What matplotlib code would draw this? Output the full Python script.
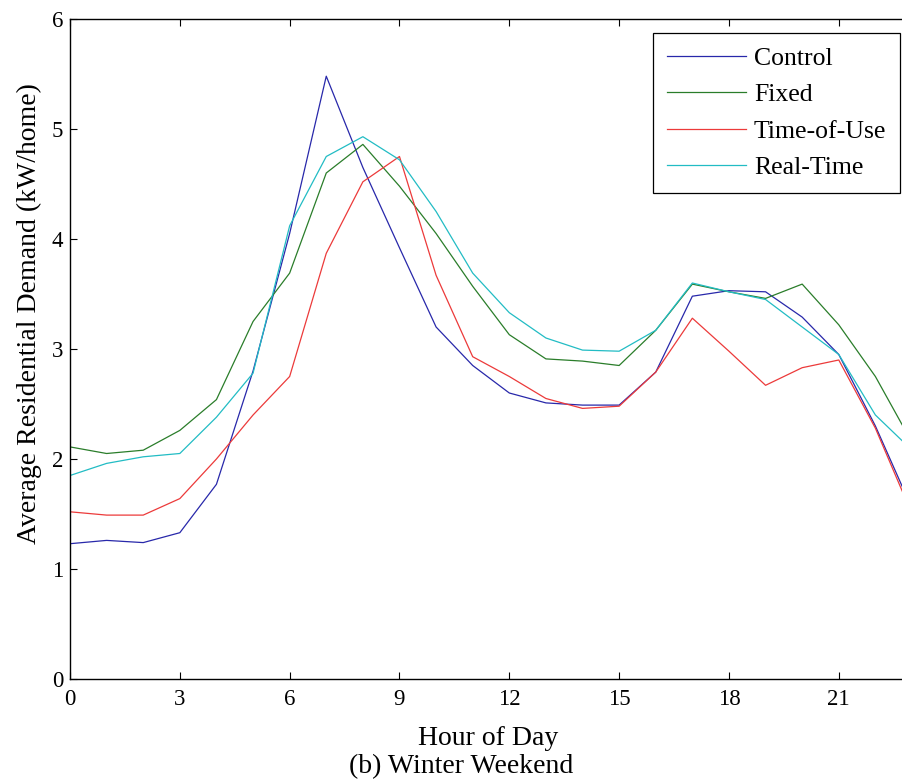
import matplotlib
matplotlib.use("Agg")
import matplotlib.pyplot as plt

hours = list(range(24))

control = [1.23, 1.26, 1.24, 1.33, 1.77, 2.80, 4.05, 5.48, 4.65, 3.92, 3.20,
           2.85, 2.60, 2.51, 2.49, 2.49, 2.79, 3.48, 3.53, 3.52, 3.29, 2.95, 2.30, 1.55]
fixed = [2.11, 2.05, 2.08, 2.26, 2.54, 3.25, 3.69, 4.60, 4.86, 4.48, 4.05,
         3.57, 3.13, 2.91, 2.89, 2.85, 3.17, 3.59, 3.52, 3.46, 3.59, 3.22, 2.75, 2.15]
time_of_use = [1.52, 1.49, 1.49, 1.64, 2.00, 2.40, 2.75, 3.87, 4.52, 4.75, 3.67,
               2.93, 2.75, 2.55, 2.46, 2.48, 2.79, 3.28, 2.98, 2.67, 2.83, 2.90, 2.28, 1.50]
real_time = [1.85, 1.96, 2.02, 2.05, 2.38, 2.78, 4.12, 4.75, 4.93, 4.72, 4.25,
             3.69, 3.33, 3.10, 2.99, 2.98, 3.17, 3.60, 3.52, 3.45, 3.20, 2.95, 2.40, 2.08]

series = [("Control", control, "#2828aa"),
          ("Fixed", fixed, "#2a7d2a"),
          ("Time-of-Use", time_of_use, "#ec3a3a"),
          ("Real-Time", real_time, "#22bcc4")]

plt.rcParams['font.family'] = ['Liberation Serif', 'DejaVu Serif']
plt.rcParams['font.size'] = 16.5

fig = plt.figure(figsize=(9.03, 7.82), dpi=100)
# axes run a bit past the right edge of the picture, as in the original crop
ax = fig.add_axes([70 / 903, 1 - 679 / 782, 842 / 903, 660 / 782])

for name, vals, col in series:
    ax.plot(hours, vals, color=col, linewidth=0.9, label=name)

ax.set_xlim(0, 23)
ax.set_ylim(0, 6)
ax.set_xticks(range(0, 22, 3))
ax.set_yticks(range(0, 7))
ax.tick_params(direction='in', length=5, width=0.8, top=True, right=True)
ax.tick_params(axis='x', pad=7.5)
ax.tick_params(axis='y', pad=5)
for sp in ax.spines.values():
    sp.set_linewidth(1.0)

# labels placed where they sit in the original (not centred on the axes)
ax.set_ylabel("Average Residential Demand (kW/home)", fontsize=20,
              va='center', ha='center', rotation_mode='default')
ax.yaxis.set_label_coords((29 - 70) / 842, (679 - 314) / 660)
ax.set_xlabel("Hour of Day", fontsize=20, va='baseline')
ax.xaxis.set_label_coords((488 - 70) / 842, (679 - 745) / 660)
fig.text(461 / 903, 1 - 773 / 782, "(b) Winter Weekend", fontsize=20,
         ha='center', va='baseline')

leg = ax.legend(loc='upper left', bbox_to_anchor=(653 / 903, 1 - 33 / 782),
                bbox_transform=fig.transFigure, fancybox=False, framealpha=1,
                edgecolor='black', fontsize=18.5, borderpad=0.55,
                handlelength=3.07, handletextpad=0.31, labelspacing=0.52,
                borderaxespad=0)
leg.get_frame().set_linewidth(0.9)

fig.savefig("out.png", dpi=100)
